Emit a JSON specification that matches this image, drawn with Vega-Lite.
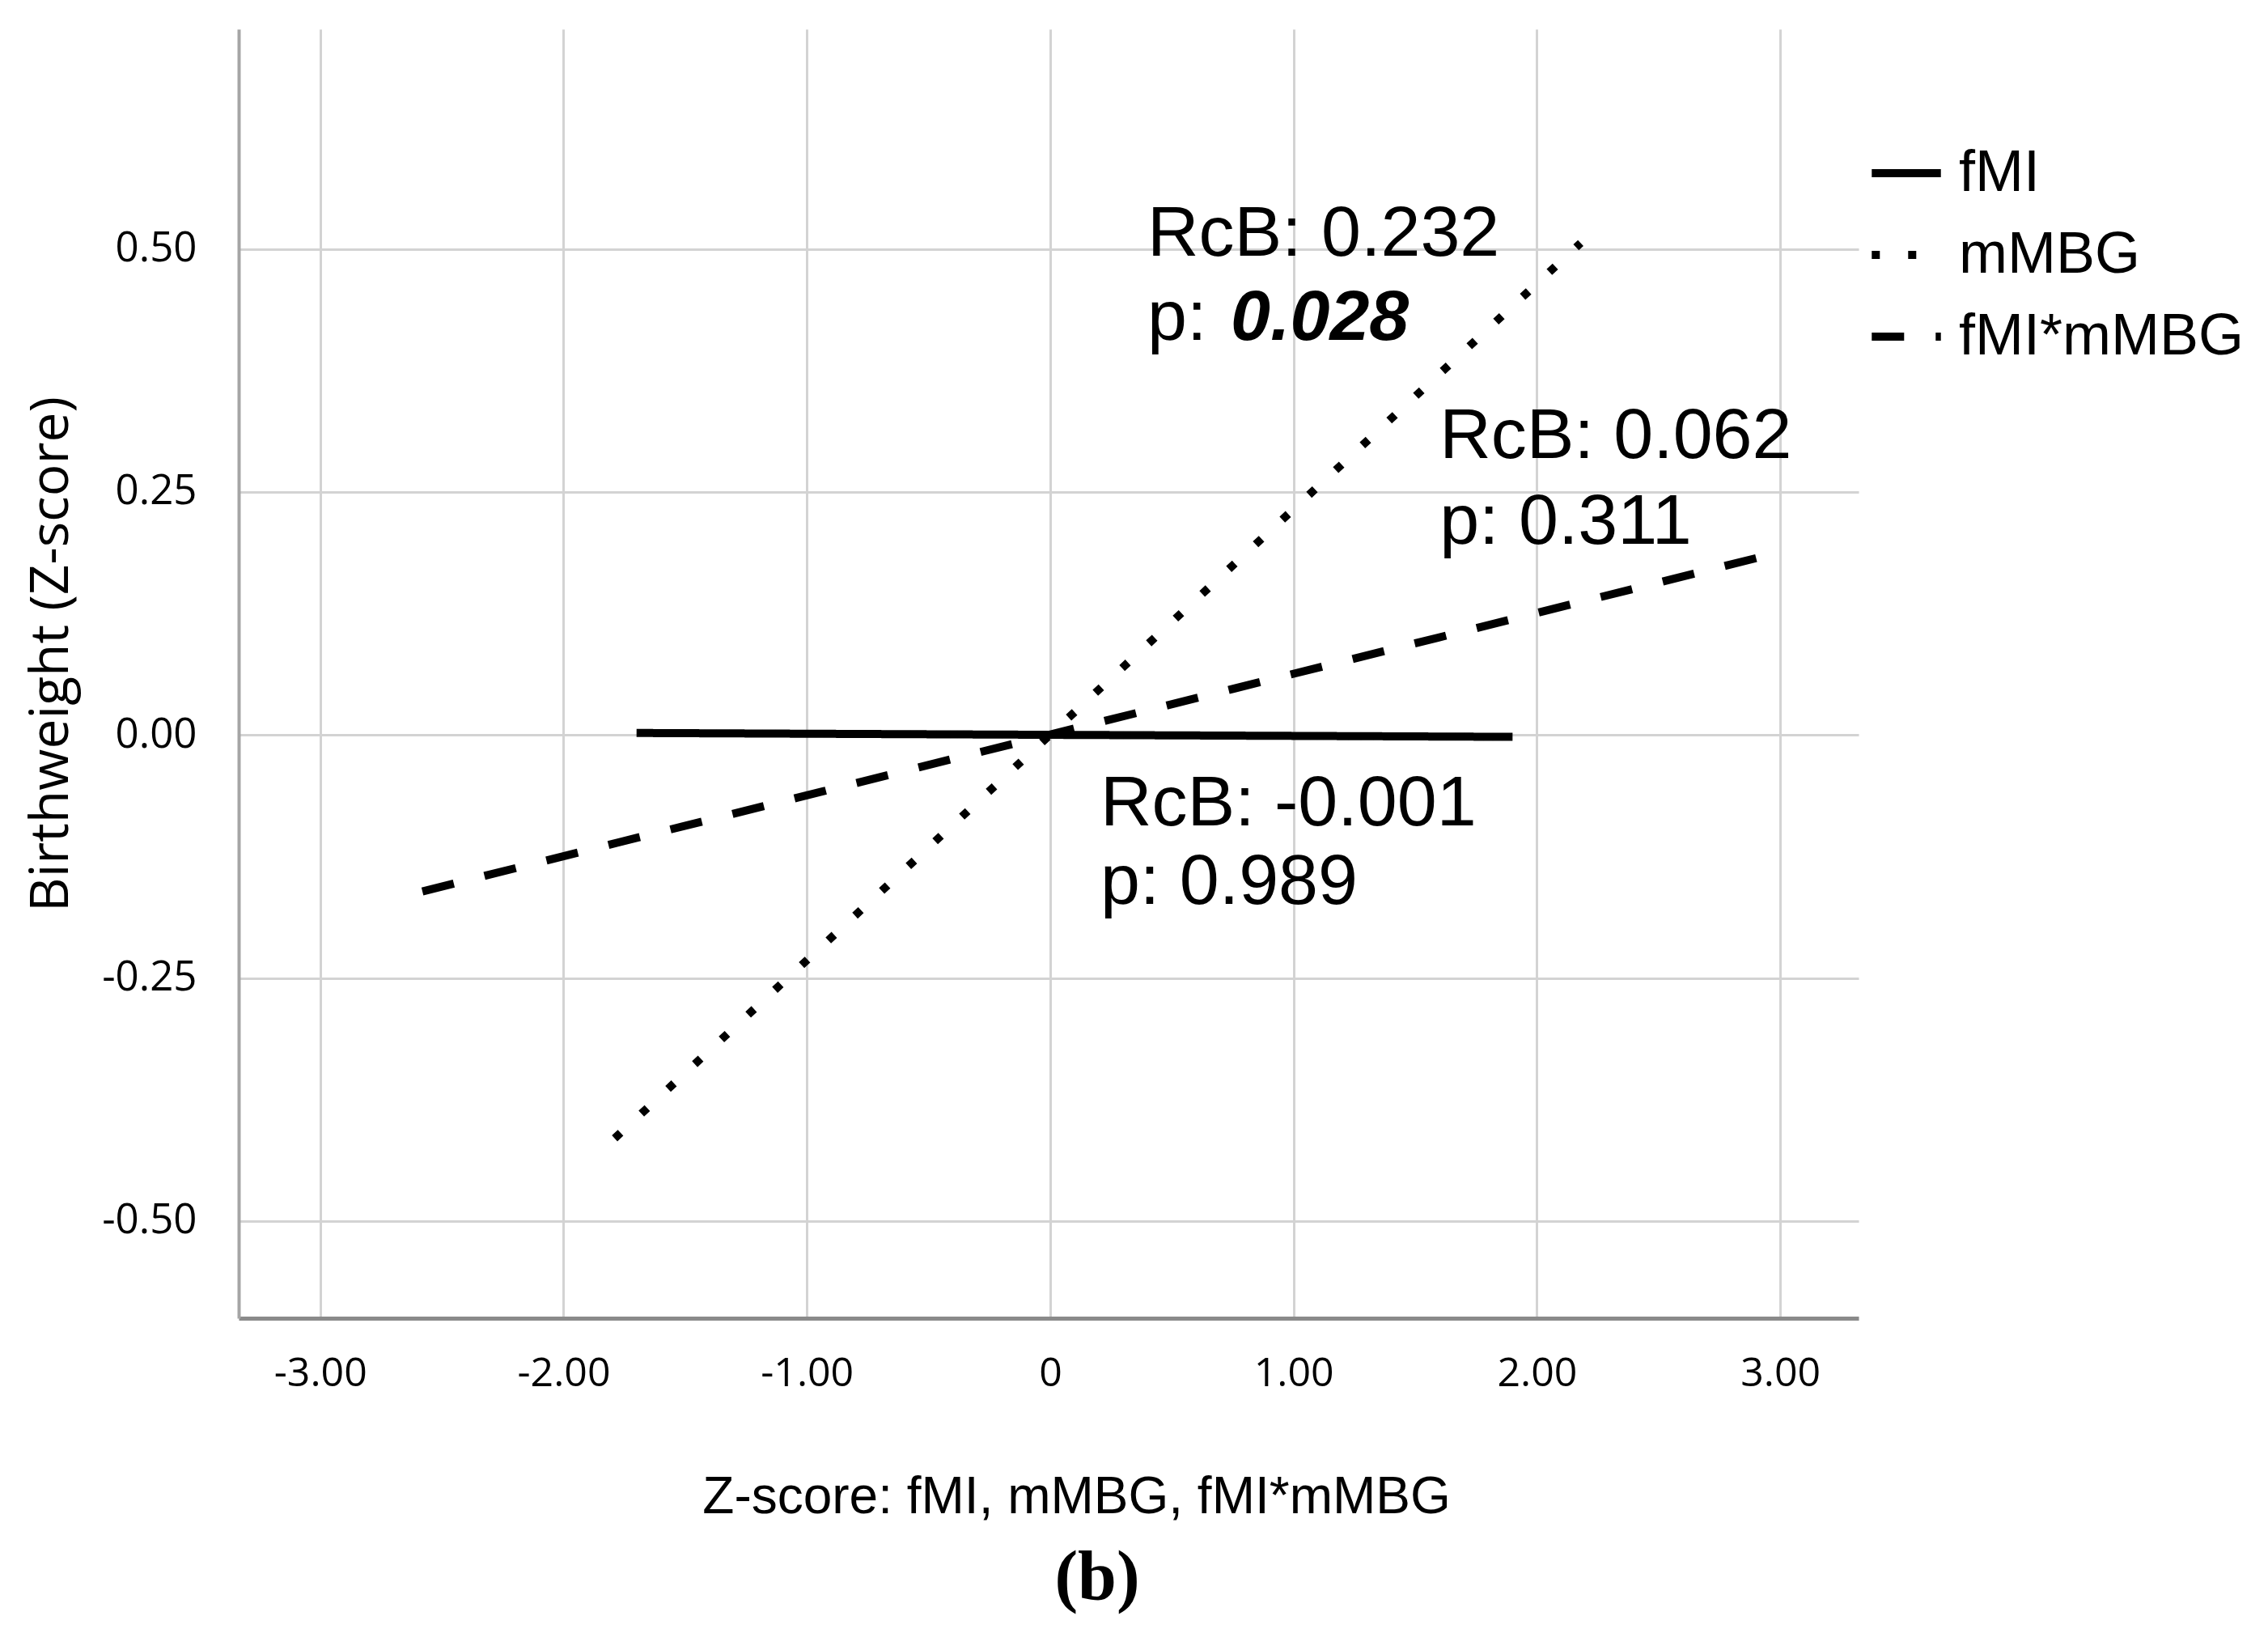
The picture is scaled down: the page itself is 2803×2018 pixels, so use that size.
{
  "$schema": "https://vega.github.io/schema/vega-lite/v6.json",
  "width": 2002,
  "height": 1593,
  "autosize": {"type": "none"},
  "padding": {"left": 295, "top": 36, "right": 506, "bottom": 389},
  "background": "white",
  "config": {"view": {"stroke": null}},
  "title": {
    "text": "(b)",
    "orient": "bottom",
    "anchor": "middle",
    "font": "Liberation Serif",
    "fontSize": 86,
    "fontWeight": "bold",
    "color": "black",
    "offset": 26,
    "dx": 60
  },
  "datasets": {
    "lines": [
      {"series": "fMI", "x": -1.70, "y": 0.002},
      {"series": "fMI", "x": 1.90, "y": -0.002},
      {"series": "mMBG", "x": -1.79, "y": -0.415},
      {"series": "mMBG", "x": 2.18, "y": 0.506},
      {"series": "fMI*mMBG", "x": -2.58, "y": -0.161},
      {"series": "fMI*mMBG", "x": 2.92, "y": 0.183}
    ],
    "notes": [
      {"x": 0.399, "y": 0.493, "label": "RcB: 0.232"},
      {"x": 0.399, "y": 0.406, "label": "p:"},
      {"x": 1.600, "y": 0.285, "label": "RcB: 0.062"},
      {"x": 1.600, "y": 0.197, "label": "p: 0.311"},
      {"x": 0.206, "y": -0.093, "label": "RcB: -0.001"},
      {"x": 0.206, "y": -0.174, "label": "p: 0.989"}
    ],
    "boldnotes": [
      {"x": 0.742, "y": 0.406, "label": "0.028"}
    ]
  },
  "layer": [
    {
      "data": {"name": "lines"},
      "mark": {"type": "line", "color": "black", "strokeWidth": 10, "strokeCap": "butt"},
      "encoding": {
        "x": {
          "field": "x", "type": "quantitative",
          "scale": {"domain": [-3.335, 3.322], "nice": false, "zero": false},
          "axis": {
            "values": [-3, -2, -1, 0, 1, 2, 3],
            "labelExpr": "datum.value == 0 ? '0' : replace(format(datum.value, '.2f'), '\u2212', '-')",
            "grid": true, "gridColor": "#d3d3d3", "gridWidth": 3,
            "domainColor": "#8a8a8a", "domainWidth": 5,
            "ticks": false,
            "labelPadding": 43, "labelFont": "Open Sans", "labelFontSize": 50, "labelColor": "black",
            "title": "Z-score: fMI, mMBG, fMI*mMBG",
            "titleFont": "Liberation Sans", "titleFontSize": 64, "titleFontWeight": "normal", "titleColor": "black",
            "titleX": 1035, "titleY": 221, "titleBaseline": "middle", "titleAlign": "center"
          }
        },
        "y": {
          "field": "y", "type": "quantitative",
          "scale": {"domain": [-0.6, 0.726], "nice": false, "zero": false},
          "axis": {
            "values": [-0.5, -0.25, 0, 0.25, 0.5],
            "labelExpr": "replace(format(datum.value, '.2f'), '\u2212', '-')",
            "grid": true, "gridColor": "#d3d3d3", "gridWidth": 3,
            "domainColor": "#a5a5a5", "domainWidth": 4,
            "ticks": false,
            "labelPadding": 52, "labelFont": "Open Sans", "labelFontSize": 51, "labelColor": "black",
            "title": "Birthweight (Z-score)",
            "titleFont": "Open Sans", "titleFontSize": 66, "titleFontWeight": "normal", "titleColor": "black",
            "titleX": -232, "titleY": 772, "titleBaseline": "middle", "titleAlign": "center", "titleAngle": -90
          }
        },
        "strokeDash": {
          "field": "series", "type": "nominal",
          "scale": {"domain": ["fMI", "mMBG", "fMI*mMBG"], "range": [[1, 0], [10, 35], [40, 39]]},
          "legend": {
            "orient": "none", "legendX": 2013, "legendY": 130,
            "title": null, "padding": 0,
            "symbolType": "stroke", "symbolSize": 7300, "symbolStrokeWidth": 10, "symbolStrokeColor": "black",
            "labelFont": "Liberation Sans", "labelFontSize": 72, "labelColor": "black", "labelLimit": 0,
            "labelOffset": 17, "rowPadding": 17
          }
        }
      }
    },
    {
      "data": {"name": "notes"},
      "mark": {"type": "text", "align": "left", "baseline": "alphabetic", "font": "Liberation Sans", "fontSize": 88, "color": "black"},
      "encoding": {
        "x": {"field": "x", "type": "quantitative"},
        "y": {"field": "y", "type": "quantitative"},
        "text": {"field": "label"}
      }
    },
    {
      "data": {"name": "boldnotes"},
      "mark": {"type": "text", "align": "left", "baseline": "alphabetic", "font": "Liberation Sans", "fontSize": 88, "fontWeight": "bold", "fontStyle": "italic", "color": "black"},
      "encoding": {
        "x": {"field": "x", "type": "quantitative"},
        "y": {"field": "y", "type": "quantitative"},
        "text": {"field": "label"}
      }
    }
  ]
}
